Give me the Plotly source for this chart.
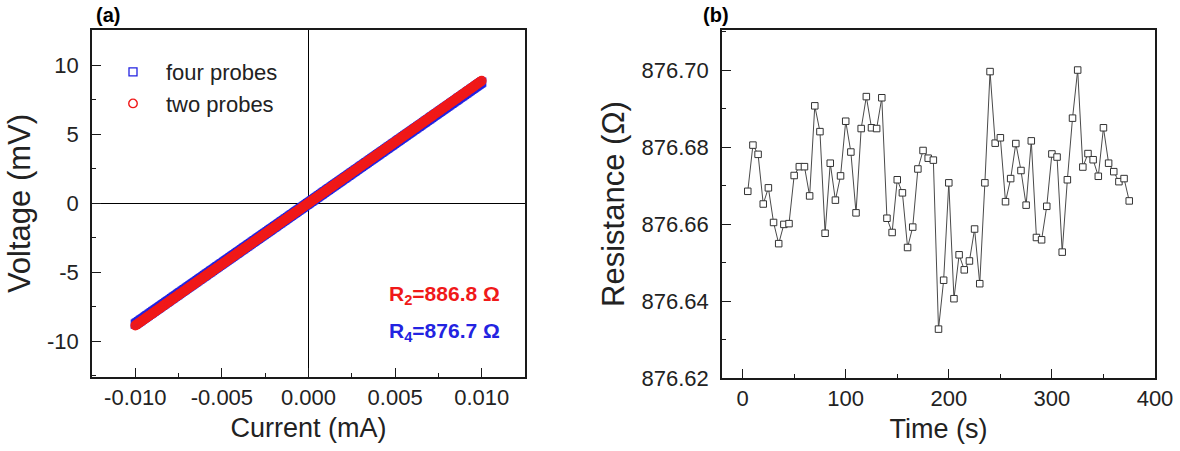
import numpy as np
import plotly.graph_objects as go

# ---- (a) I-V sweep: current range and fitted resistances ----
CURRENT_START_mA = -0.010
CURRENT_STOP_mA = 0.010
SWEEP_POINTS = 401
R_TWO_PROBE = 886.8   # ohm
R_FOUR_PROBE = 876.7  # ohm

current_mA = np.linspace(CURRENT_START_mA, CURRENT_STOP_mA, SWEEP_POINTS)
voltage_four_mV = current_mA * R_FOUR_PROBE
voltage_two_mV = current_mA * R_TWO_PROBE

# ---- (b) four-probe resistance over time ----
time_s = [5, 10, 15, 20, 25, 30, 35, 40, 45, 50, 55, 60, 65, 70, 75, 80, 85, 90, 95, 100,
          105, 110, 115, 120, 125, 130, 135, 140, 145, 150, 155, 160, 165, 170, 175, 180,
          185, 190, 195, 200, 205, 210, 215, 220, 225, 230, 235, 240, 245, 250, 255, 260,
          265, 270, 275, 280, 285, 290, 295, 300, 305, 310, 315, 320, 325, 330, 335, 340,
          345, 350, 355, 360, 365, 370, 375]
resistance_ohm = [876.6685, 876.6805, 876.6781, 876.6652, 876.6694, 876.6604, 876.6549,
                  876.6599, 876.6601, 876.6726, 876.6749, 876.6749, 876.6673, 876.6907,
                  876.6840, 876.6576, 876.6758, 876.6662, 876.6725, 876.6867, 876.6787,
                  876.6629, 876.6848, 876.6931, 876.6850, 876.6848, 876.6928, 876.6615,
                  876.6578, 876.6715, 876.6681, 876.6539, 876.6592, 876.6743, 876.6791,
                  876.6771, 876.6766, 876.6327, 876.6454, 876.6707, 876.6406, 876.6520,
                  876.6481, 876.6504, 876.6587, 876.6445, 876.6707, 876.6996, 876.6810,
                  876.6824, 876.6658, 876.6718, 876.6809, 876.6739, 876.6649, 876.6816,
                  876.6565, 876.6559, 876.6646, 876.6782, 876.6774, 876.6527, 876.6715,
                  876.6875, 876.7000, 876.6748, 876.6783, 876.6767, 876.6724, 876.6850,
                  876.6758, 876.6736, 876.6710, 876.6718, 876.6660]

iv_x_ticks = [-0.010, -0.005, 0.000, 0.005, 0.010]
iv_x_labels = ["-0.010", "-0.005", "0.000", "0.005", "0.010"]
iv_y_ticks = [-10, -5, 0, 5, 10]
iv_y_labels = ["-10", "-5", "0", "5", "10"]
rt_x_ticks = [0, 100, 200, 300, 400]
rt_y_ticks = [876.62, 876.64, 876.66, 876.68, 876.70]

BLUE = "rgb(35,35,225)"
RED = "rgb(240,25,25)"
FONT = "Liberation Sans, Arial, sans-serif"
AX = "#1a1a1a"
W, H = 1180, 451

fig = go.Figure()

fig.add_trace(go.Scatter(
    x=current_mA, y=voltage_four_mV, mode="markers", name="four probes",
    marker=dict(symbol="square-open", size=8, color=BLUE, line=dict(width=1.3, color=BLUE)),
    xaxis="x", yaxis="y"))
fig.add_trace(go.Scatter(
    x=current_mA, y=voltage_two_mV, mode="markers", name="two probes",
    marker=dict(symbol="circle-open", size=8.5, color=RED, line=dict(width=1.4, color=RED)),
    xaxis="x", yaxis="y"))

fig.add_trace(go.Scatter(
    x=time_s, y=resistance_ohm, mode="lines+markers", showlegend=False,
    line=dict(color="#4a4a4a", width=1),
    marker=dict(symbol="square", size=6.5, color="white", line=dict(width=1, color="#333")),
    xaxis="x2", yaxis="y2"))

common = dict(
    showline=True, mirror=True, linecolor=AX, linewidth=1.5,
    ticks="inside", ticklen=9, tickwidth=1.3, tickcolor=AX,
    showgrid=False, automargin=False,
    tickfont=dict(family=FONT, size=22, color="#222"),
)
x_title_font = dict(family=FONT, size=27, color="#222")
y_title_font = dict(family=FONT, size=31, color="#222")

fig.update_layout(
    width=W, height=H,
    margin=dict(l=0, r=0, t=0, b=0, autoexpand=False),
    paper_bgcolor="white", plot_bgcolor="white",
    font=dict(family=FONT, color="#222"),
    xaxis=dict(domain=[92 / W, 525 / W], range=[-0.0125, 0.0125],
               tickvals=iv_x_ticks, ticktext=iv_x_labels,
               minor=dict(ticks="inside", ticklen=4, tickcolor=AX, dtick=0.0025, tick0=0),
               zeroline=True, zerolinecolor="black", zerolinewidth=1.3,
               title=dict(text="Current (mA)", standoff=9, font=x_title_font),
               anchor="y", **common),
    yaxis=dict(domain=[1 - 377 / H, 1 - 30 / H], range=[-12.6, 12.55],
               tickvals=iv_y_ticks, ticktext=iv_y_labels, ticklabelstandoff=7,
               minor=dict(ticks="inside", ticklen=4, tickcolor=AX, dtick=2.5, tick0=0),
               zeroline=True, zerolinecolor="black", zerolinewidth=1.3,
               title=dict(text="Voltage (mV)", standoff=7, font=y_title_font),
               anchor="x", **common),
    xaxis2=dict(domain=[722 / W, 1155 / W], range=[-20, 400],
                tickvals=rt_x_ticks,
                minor=dict(ticks="inside", ticklen=4, tickcolor=AX, dtick=50, tick0=0),
                zeroline=False,
                title=dict(text="Time (s)", standoff=9, font=x_title_font),
                anchor="y2", **common),
    yaxis2=dict(domain=[1 - 378 / H, 1 - 30 / H], range=[876.62, 876.7104],
                tickvals=rt_y_ticks, tickformat=".2f", ticklabelstandoff=7,
                minor=dict(ticks="inside", ticklen=4, tickcolor=AX, dtick=0.01, tick0=876.62),
                zeroline=False,
                title=dict(text="Resistance (Ω)", standoff=8, font=y_title_font),
                anchor="x2", **common),
    legend=dict(x=100 / W, y=1 - 51 / H, xanchor="left", yanchor="top",
                bgcolor="rgba(0,0,0,0)", font=dict(family=FONT, size=22, color="#222"),
                itemsizing="trace", itemwidth=56, tracegroupgap=0),
    annotations=[
        dict(text="<b>(a)</b>", x=108 / W, y=1 - 15 / H, xref="paper", yref="paper",
             xanchor="center", yanchor="middle",
             showarrow=False, font=dict(family=FONT, size=20, color="black")),
        dict(text="<b>(b)</b>", x=716 / W, y=1 - 15 / H, xref="paper", yref="paper",
             xanchor="center", yanchor="middle",
             showarrow=False, font=dict(family=FONT, size=20, color="black")),
        dict(text=f"<b>R<sub>2</sub>={R_TWO_PROBE:.1f} Ω</b>", x=0.0112, y=-6.67,
             xref="x", yref="y", xanchor="right", yanchor="middle", showarrow=False,
             font=dict(family=FONT, size=21, color=RED)),
        dict(text=f"<b>R<sub>4</sub>={R_FOUR_PROBE:.1f} Ω</b>", x=0.0112, y=-9.35,
             xref="x", yref="y", xanchor="right", yanchor="middle", showarrow=False,
             font=dict(family=FONT, size=21, color=BLUE)),
    ],
)

fig.write_html("out.html")
